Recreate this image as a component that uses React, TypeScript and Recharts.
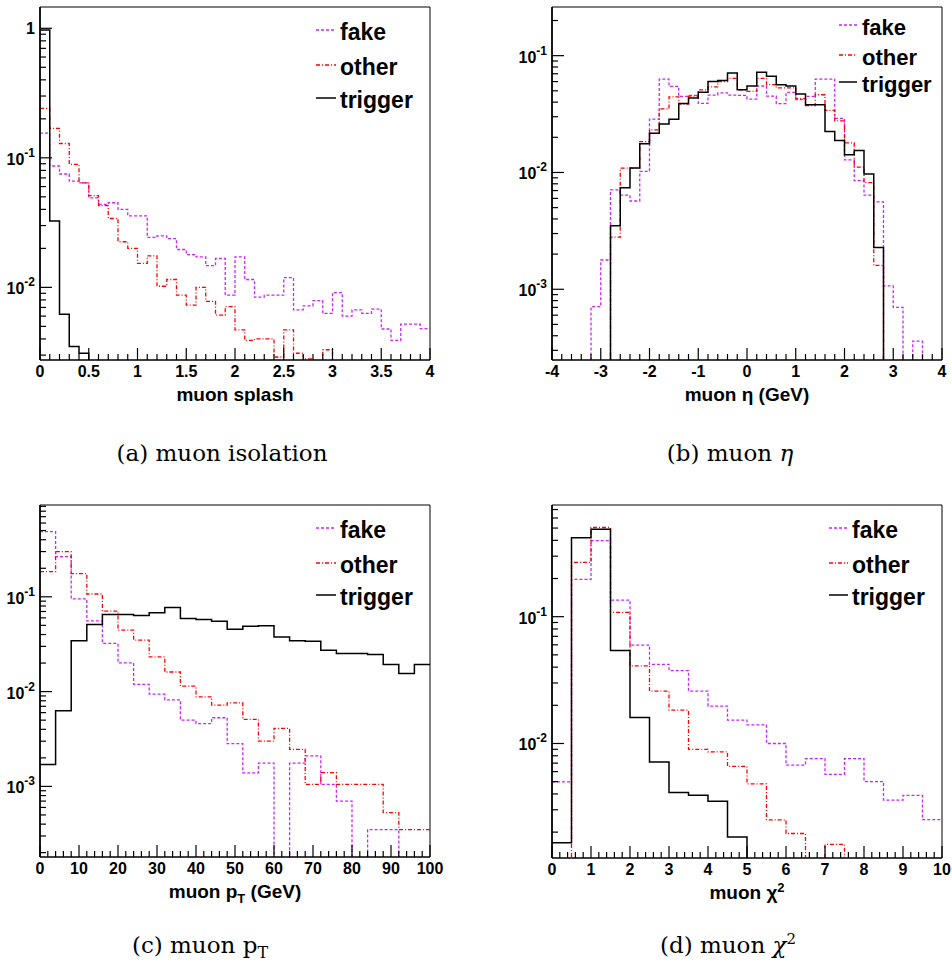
import React from 'react';
import { LineChart, Line, XAxis, YAxis, ReferenceArea } from 'recharts';

// (a) muon splash: 0..4, bins of 0.1
const splashFake = [0.155, 0.0865, 0.075, 0.066, 0.064, 0.049, 0.0437, 0.045, 0.04, 0.0357, 0.0357, 0.0243, 0.025, 0.0238, 0.0196, 0.0179, 0.0172, 0.0147, 0.0167, 0.0087, 0.0172, 0.0115, 0.0084, 0.0087, 0.0087, 0.0119, 0.0067, 0.0072, 0.0079, 0.0063, 0.0091, 0.006, 0.0067, 0.0063, 0.0068, 0.00477, 0.0039, 0.0052, 0.0052, 0.0048];
const splashOther = [0.241, 0.169, 0.129, 0.089, 0.064, 0.051, 0.0427, 0.034, 0.0225, 0.02, 0.0153, 0.0175, 0.0102, 0.0115, 0.0087, 0.0073, 0.01, 0.0078, 0.0061, 0.0071, 0.0047, 0.0039, 0.004, 0.004, 0.0029, 0.0047, 0.0031, 0.0028, 0, 0.0033, 0, 0, 0, 0, 0, 0, 0, 0, 0, 0];
const splashTrigger = [0.97, 0.0325, 0.0062, 0.0035, 0.0031, 0, 0, 0, 0, 0, 0, 0, 0, 0, 0, 0, 0, 0, 0, 0, 0, 0, 0, 0, 0, 0, 0, 0, 0, 0, 0, 0, 0, 0, 0, 0, 0, 0, 0, 0];

// (b) muon eta: -4..4, bins of 0.2
const etaFake = [0, 0, 0, 0, 0.00071, 0.00178, 0.0071, 0.0064, 0.0057, 0.0102, 0.0286, 0.063, 0.0546, 0.0448, 0.0457, 0.039, 0.046, 0.048, 0.046, 0.0457, 0.0425, 0.055, 0.045, 0.0388, 0.0485, 0.042, 0.0448, 0.063, 0.063, 0.029, 0.0128, 0.0085, 0.0064, 0.0056, 0.00107, 0.0007, 0, 0.00036, 0, 0];
const etaOther = [0, 0, 0, 0, 0, 0, 0.0028, 0.0109, 0.0109, 0.0184, 0.0232, 0.035, 0.0443, 0.0385, 0.045, 0.051, 0.054, 0.06, 0.064, 0.051, 0.0495, 0.064, 0.0565, 0.053, 0.053, 0.0428, 0.0373, 0.0463, 0.034, 0.0277, 0.0179, 0.0111, 0.0082, 0.0016, 0, 0, 0, 0, 0, 0];
const etaTrigger = [0, 0, 0, 0, 0, 0, 0.0035, 0.0074, 0.0109, 0.0176, 0.0217, 0.026, 0.0286, 0.039, 0.0434, 0.0485, 0.06, 0.0614, 0.071, 0.051, 0.055, 0.072, 0.0666, 0.0565, 0.055, 0.047, 0.038, 0.038, 0.0224, 0.0188, 0.0142, 0.0154, 0.0097, 0.00228, 0, 0, 0, 0, 0, 0];

// (c) muon pT: 0..100 GeV, bins of 4
const ptFake = [0.486, 0.265, 0.095, 0.0557, 0.0322, 0.0201, 0.0119, 0.0094, 0.0082, 0.005, 0.0046, 0.0053, 0.00282, 0.00139, 0.00176, 0, 0.00176, 0.0021, 0.00105, 0.0007, 0, 0.00035, 0.00035, 0, 0];
const ptOther = [0.184, 0.3, 0.176, 0.107, 0.0706, 0.0445, 0.0349, 0.0232, 0.0161, 0.0114, 0.0088, 0.0072, 0.0076, 0.0051, 0.003, 0.0041, 0.00246, 0.00105, 0.0014, 0.00105, 0.00105, 0.00105, 0.00053, 0.00035, 0.00035];
const ptTrigger = [0.0017, 0.0063, 0.0343, 0.051, 0.065, 0.065, 0.0635, 0.0678, 0.077, 0.059, 0.0577, 0.0553, 0.0455, 0.049, 0.0494, 0.0377, 0.0343, 0.034, 0.0273, 0.0252, 0.0252, 0.0246, 0.0193, 0.0155, 0.0193];

// (d) muon chi2: 0..10, bins of 0.5
const chi2Fake = [0.00498, 0.197, 0.398, 0.135, 0.0597, 0.042, 0.0375, 0.0259, 0.0197, 0.0153, 0.014, 0.01, 0.00675, 0.0076, 0.0057, 0.0076, 0.005, 0.00357, 0.0039, 0.00251];
const chi2Other = [0, 0.268, 0.505, 0.108, 0.041, 0.0259, 0.0183, 0.009, 0.0086, 0.0066, 0.0048, 0.0025, 0.00195, 0, 0.0016, 0, 0, 0, 0, 0];
const chi2Trigger = [0.00165, 0.42, 0.489, 0.054, 0.016, 0.00716, 0.0041, 0.0039, 0.0035, 0.00183, 0, 0, 0, 0, 0, 0, 0, 0, 0, 0];

const seriesNames = ['fake', 'other', 'trigger'];

const SANS = '"Liberation Sans", Arial, Helvetica, sans-serif';
const SERIF = '"DejaVu Serif", "Liberation Serif", serif';
const EMPTY = 1e-7; // empty bins fall below the log axis and get clipped

const styles: Record<string, { color: string; dash?: string; width: number }> = {
  fake: { color: '#cc22ff', dash: '3 2', width: 1.3 },
  other: { color: '#ff0000', dash: '4 2 1 2', width: 1.3 },
  trigger: { color: '#000000', width: 1.5 },
};

type PanelCfg = {
  left: number;
  top: number;
  width: number;
  plotLeft: number;
  plotTop: number;
  plotRight: number;
  plotBottom: number;
  xMin: number;
  xMax: number;
  bin: number;
  xMajor: number;
  xMinor: number;
  yMin: number;
  yMax: number;
  fake: number[];
  other: number[];
  trigger: number[];
  legend: { x1: number; x2: number; tx: number; ys: number[]; size: number };
  title: React.ReactNode;
  caption: React.ReactNode;
  captionX: number;
  captionY: number;
};

function buildRows(p: PanelCfg) {
  const n = p.fake.length;
  const rows = [];
  for (let i = 0; i <= n; i++) {
    const k = Math.min(i, n - 1);
    rows.push({
      x: p.xMin + i * p.bin,
      fake: p.fake[k] || EMPTY,
      other: p.other[k] || EMPTY,
      trigger: p.trigger[k] || EMPTY,
    });
  }
  return rows;
}

function xTickValues(p: PanelCfg) {
  const out: number[] = [];
  const n = Math.round((p.xMax - p.xMin) / p.xMinor);
  for (let k = 0; k <= n; k++) out.push(Math.round((p.xMin + k * p.xMinor) * 1e6) / 1e6);
  return out;
}

function yTickValues(p: PanelCfg) {
  const out: number[] = [];
  for (let d = Math.floor(Math.log10(p.yMin)); d <= Math.ceil(Math.log10(p.yMax)); d++) {
    for (let m = 1; m <= 9; m++) {
      const v = m * Math.pow(10, d);
      if (v >= p.yMin && v <= p.yMax) out.push(v);
    }
  }
  return out;
}

function HistPanel({ p }: { p: PanelCfg }) {
  const height = 420;
  const rows = buildRows(p);
  const xTicks = xTickValues(p);
  const yTicks = yTickValues(p);

  const renderXTick = (props: any) => {
    const { x, payload } = props;
    const v = payload.value;
    const r = v / p.xMajor;
    const major = Math.abs(r - Math.round(r)) < 1e-6;
    return (
      <g>
        <line x1={x} x2={x} y1={p.plotBottom} y2={p.plotBottom - (major ? 12 : 6)} stroke="#000" strokeWidth={1.2} />
        {major && (
          <text x={x} y={p.plotBottom + 17} textAnchor="middle" fontFamily={SANS} fontWeight="bold" fontSize={16} fill="#000">
            {String(Number(v.toFixed(4)))}
          </text>
        )}
      </g>
    );
  };

  const renderYTick = (props: any) => {
    const { y, payload } = props;
    const v = payload.value;
    const e = Math.round(Math.log10(v));
    const major = Math.abs(v / Math.pow(10, e) - 1) < 1e-6;
    return (
      <g>
        <line x1={p.plotLeft} x2={p.plotLeft + (major ? 12 : 6)} y1={y} y2={y} stroke="#000" strokeWidth={1.2} />
        {major && (e === 0 ? (
          <text x={p.plotLeft - 5} y={y + 6} textAnchor="end" fontFamily={SANS} fontWeight="bold" fontSize={16} fill="#000">1</text>
        ) : (
          <text x={p.plotLeft - 5} y={y + 7} textAnchor="end" fontFamily={SANS} fontWeight="bold" fontSize={16} fill="#000">
            10<tspan dy={-8} fontSize={12}>{e}</tspan>
          </text>
        ))}
      </g>
    );
  };

  return (
    <div style={{ position: 'absolute', left: p.left, top: p.top, width: p.width, height: 480 }}>
      <LineChart
        width={p.width}
        height={height}
        data={rows}
        margin={{ top: p.plotTop, right: p.width - p.plotRight, bottom: 0, left: 0 }}
      >
        <XAxis
          dataKey="x"
          type="number"
          domain={[p.xMin, p.xMax]}
          allowDataOverflow
          ticks={xTicks}
          interval={0}
          tickLine={false}
          axisLine={{ stroke: '#000', strokeWidth: 1.2 }}
          height={height - p.plotBottom}
          tick={renderXTick}
        />
        <YAxis
          type="number"
          scale="log"
          domain={[p.yMin, p.yMax]}
          allowDataOverflow
          ticks={yTicks}
          interval={0}
          tickLine={false}
          axisLine={{ stroke: '#000', strokeWidth: 1.6 }}
          width={p.plotLeft}
          tick={renderYTick}
        />
        <ReferenceArea x1={p.xMin} x2={p.xMax} y1={p.yMin} y2={p.yMax} fill="none" stroke="#000" strokeWidth={1} />
        {seriesNames.map((s) => (
          <Line
            key={s}
            type="stepAfter"
            dataKey={s}
            name={s}
            stroke={styles[s].color}
            strokeDasharray={styles[s].dash}
            strokeWidth={styles[s].width}
            dot={false}
            activeDot={false}
            isAnimationActive={false}
          />
        ))}
      </LineChart>
      <svg width={p.width} height={480} style={{ position: 'absolute', left: 0, top: 0, pointerEvents: 'none' }}>
        {seriesNames.map((s, i) => (
          <g key={s}>
            <line
              x1={p.legend.x1}
              x2={p.legend.x2}
              y1={p.legend.ys[i] - 2}
              y2={p.legend.ys[i] - 2}
              stroke={styles[s].color}
              strokeDasharray={styles[s].dash}
              strokeWidth={styles[s].width}
            />
            <text
              x={p.legend.tx}
              y={p.legend.ys[i] + p.legend.size * 0.36}
              fontFamily={SANS}
              fontWeight="bold"
              fontSize={p.legend.size}
              fill="#000"
            >
              {s}
            </text>
          </g>
        ))}
        <text
          x={(p.plotLeft + p.plotRight) / 2}
          y={p.plotBottom + 41}
          textAnchor="middle"
          fontFamily={SANS}
          fontWeight="bold"
          fontSize={19}
          fill="#000"
        >
          {p.title}
        </text>
        <text x={p.captionX} y={p.captionY} textAnchor="middle" fontFamily={SERIF} fontSize={23} fill="#000">
          {p.caption}
        </text>
      </svg>
    </div>
  );
}

const panels: PanelCfg[] = [
  {
    left: 0, top: 0, width: 460,
    plotLeft: 40, plotTop: 7, plotRight: 430, plotBottom: 360,
    xMin: 0, xMax: 4, bin: 0.1, xMajor: 0.5, xMinor: 0.1,
    yMin: 0.00275, yMax: 1.46,
    fake: splashFake, other: splashOther, trigger: splashTrigger,
    legend: { x1: 316, x2: 336, tx: 340, ys: [32, 67, 100], size: 23 },
    title: 'muon splash',
    caption: '(a)  muon isolation',
    captionX: 222, captionY: 461,
  },
  {
    left: 476, top: 0, width: 476,
    plotLeft: 76, plotTop: 7, plotRight: 466, plotBottom: 360,
    xMin: -4, xMax: 4, bin: 0.2, xMajor: 1, xMinor: 0.2,
    yMin: 0.000248, yMax: 0.261,
    fake: etaFake, other: etaOther, trigger: etaTrigger,
    legend: { x1: 363, x2: 381, tx: 386, ys: [27, 57, 84], size: 22 },
    title: 'muon η (GeV)',
    caption: (
      <>
        (b)  muon <tspan fontStyle="italic">η</tspan>
      </>
    ),
    captionX: 254, captionY: 461,
  },
  {
    left: 0, top: 490, width: 460,
    plotLeft: 40, plotTop: 15, plotRight: 430, plotBottom: 367,
    xMin: 0, xMax: 100, bin: 4, xMajor: 10, xMinor: 2,
    yMin: 0.00018, yMax: 0.93,
    fake: ptFake, other: ptOther, trigger: ptTrigger,
    legend: { x1: 316, x2: 336, tx: 340, ys: [40, 75, 107], size: 23 },
    title: (
      <>
        muon p<tspan dy={5} fontSize={13}>T</tspan>
        <tspan dy={-5}> (GeV)</tspan>
      </>
    ),
    caption: (
      <>
        (c)  muon p<tspan dy={5} fontSize={16}>T</tspan>
      </>
    ),
    captionX: 200, captionY: 463,
  },
  {
    left: 476, top: 490, width: 476,
    plotLeft: 76, plotTop: 15, plotRight: 466, plotBottom: 368,
    xMin: 0, xMax: 10, bin: 0.5, xMajor: 1, xMinor: 0.2,
    yMin: 0.00125, yMax: 0.76,
    fake: chi2Fake, other: chi2Other, trigger: chi2Trigger,
    legend: { x1: 353, x2: 372, tx: 376, ys: [40, 75, 107], size: 23 },
    title: (
      <>
        muon χ<tspan dy={-7} fontSize={13}>2</tspan>
      </>
    ),
    caption: (
      <>
        (d)  muon <tspan fontStyle="italic">χ</tspan>
        <tspan dy={-9} fontSize={15}>2</tspan>
      </>
    ),
    captionX: 252, captionY: 463,
  },
];

export default function App() {
  return (
    <div style={{ position: 'absolute', left: 0, top: 0, width: 952, height: 971, background: '#fff' }}>
      {panels.map((p, i) => (
        <HistPanel key={i} p={p} />
      ))}
    </div>
  );
}
